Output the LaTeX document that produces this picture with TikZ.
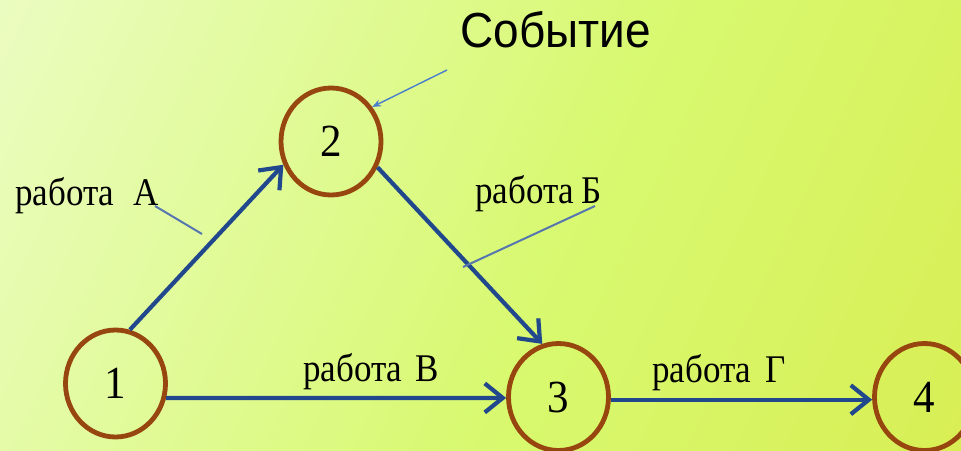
\documentclass[tikz,border=0pt]{standalone}
\usepackage{fontspec}
\usepackage{graphicx}
\setmainfont{Liberation Serif}
\newfontfamily\headfont{Liberation Sans}
\usetikzlibrary{arrows.meta,shapes.geometric}

\definecolor{eventring}{RGB}{150,70,14}
\definecolor{workblue}{RGB}{33,72,140}
\definecolor{leaderblue}{RGB}{86,118,176}
\definecolor{pointerblue}{RGB}{74,126,205}
\definecolor{bgA}{RGB}{245,254,228}
\definecolor{bgB}{RGB}{228,251,165}
\definecolor{bgC}{RGB}{216,249,112}
\definecolor{bgD}{RGB}{216,240,88}
\definecolor{bgE}{RGB}{226,226,62}

\pgfdeclarehorizontalshading{sheetshade}{100bp}{%
  color(0bp)=(bgA); color(30bp)=(bgB); color(55bp)=(bgC);
  color(80bp)=(bgD); color(100bp)=(bgE)}

\newcommand{\tall}[1]{\scalebox{1}[1.07]{#1}}
\newcommand{\taller}[1]{\scalebox{1}[1.12]{#1}}

\tikzset{
  event/.style={ellipse, draw=eventring, line width=4.8pt,
    minimum width=100pt, minimum height=107pt, inner sep=0pt,
    font=\fontsize{43}{43}\selectfont},
  work/.style={draw=workblue, line width=4.2pt,
    -{Straight Barb[length=18pt,width=29pt]}},
  worklabel/.style={anchor=base west, inner sep=0pt,
    font=\fontsize{35}{35}\selectfont},
  leader/.style={draw=leaderblue, line width=2pt},
  pointer/.style={draw=pointerblue, line width=1.4pt,
    -{Stealth[length=9pt,width=7pt]}},
}

\begin{document}
\begin{tikzpicture}[x={(1pt,0)}, y={(0,-1pt)}]
  \useasboundingbox (0,0) rectangle (961,450);
  \fill[shading=sheetshade, shading angle=-25] (0,0) rectangle (961,450);

  % events
  \node[event] (n1) at (115.5,383.5) {\tall{1}};
  \node[event] (n2) at (331,141.5) {\tall{2}};
  \node[event] (n3) at (558.5,397) {\tall{3}};
  \node[event] (n4) at (924.5,397) {\tall{4}};

  % works
  \draw[work] (n1.75) -- (n2.206);
  \draw[work] (n2.331) -- (n3.107);
  \draw[work] (n1.344) -- (n3.181);
  \draw[work] (n3.357) -- (n4.183);

  % labels of the works
  \node[worklabel] (la) at (15,205) {\taller{работа\hspace{19pt}А}};
  \node[worklabel] (lb) at (475,203) {\taller{работа\hspace{7pt}Б}};
  \node[worklabel] (lv) at (303,381) {\taller{работа\hspace{13pt}В}};
  \node[worklabel] (lg) at (652,382) {\taller{работа\hspace{14pt}Г}};

  \coordinate (la1) at (155,206);
  \coordinate (la2) at (202,234);
  \coordinate (lb1) at (595,206);
  \coordinate (lb2) at (463,267);
  \draw[leader] (la1) -- (la2);
  \draw[leader] (lb1) -- (lb2);

  % caption with its pointer
  \node[font=\headfont\fontsize{46}{46}\selectfont, inner sep=0pt]
    (cap) at (555.5,29.5) {\tall{Событие}};
  \coordinate (p0) at (447,70);
  \draw[pointer] (p0) -- (n2.40);
\end{tikzpicture}
\end{document}
